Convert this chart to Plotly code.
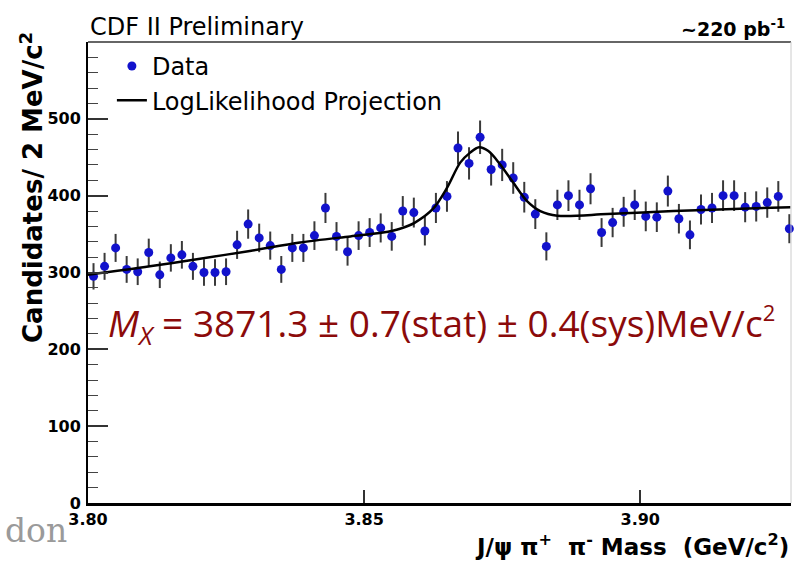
import numpy as np
import plotly.graph_objects as go

# J/psi pi+ pi- candidates in 2 MeV/c^2 bins, bin centres in GeV/c^2
bin_width = 0.002
first_centre = 3.801
counts = [295, 308, 332, 304, 301, 326, 297, 319, 323, 308,
          300, 300, 301, 336, 363, 345, 335, 304, 332, 332,
          348, 384, 347, 327, 348, 352, 358, 347, 380, 378,
          354, 384, 399, 462, 442, 476, 434, 440, 423, 398,
          376, 334, 388, 400, 388, 409, 352, 365, 379, 388,
          373, 372, 406, 370, 349, 382, 384, 400, 400, 385,
          386, 391, 399, 357]
mass = np.round(first_centre + bin_width * np.arange(len(counts)), 4)
stat_err = np.sqrt(counts)

# Unbinned log-likelihood fit projected onto the histogram
fit_mass = [3.8000, 3.8112, 3.8203, 3.8293, 3.8384, 3.8475, 3.8534, 3.8565,
            3.8592, 3.8625, 3.8650, 3.8674, 3.8692, 3.8708, 3.8725, 3.8746,
            3.8770, 3.8795, 3.8819, 3.8850, 3.8940, 3.9060, 3.9181, 3.9272]
fit_value = [297, 308, 318, 328, 339, 347, 352, 357,
             365, 383, 410, 443, 456, 463, 458, 441,
             417, 393, 380, 374, 376, 380, 383, 385]

x_ticks = [3.80, 3.85, 3.90]
y_ticks = [0, 100, 200, 300, 400, 500]

fig = go.Figure()

fig.add_trace(go.Scatter(
    x=mass, y=counts, mode="markers", name="Data",
    marker=dict(color="#1212cc", size=9),
    error_y=dict(type="data", array=stat_err, visible=True,
                 color="#3a3a3a", thickness=2, width=0),
    cliponaxis=False,
))

fig.add_trace(go.Scatter(
    x=fit_mass, y=fit_value, mode="lines", name="LogLikelihood Projection",
    line=dict(color="black", width=2.5, shape="spline", smoothing=0.9),
))

bold = "DejaVu Sans"
fig.update_layout(
    width=794, height=562,
    margin=dict(l=88, r=3, t=42, b=59),
    paper_bgcolor="white", plot_bgcolor="white",
    showlegend=True,
    legend=dict(x=0.034, y=0.996, xanchor="left", yanchor="top",
                bgcolor="rgba(0,0,0,0)",
                font=dict(family="DejaVu Sans", size=24, color="black"),
                itemwidth=30, tracegroupgap=0),
    xaxis=dict(range=[3.80, 3.9273], showgrid=False, zeroline=False,
               showline=True, linecolor="black", linewidth=2.5,
               tickmode="array", tickvals=x_ticks, tickformat=".2f",
               ticks="inside", ticklen=13, tickwidth=1.5, tickcolor="#333",
               ticklabelstandoff=0,
               tickfont=dict(family=bold, size=16, color="black", weight="bold")),
    yaxis=dict(range=[0, 600], showgrid=False, zeroline=False,
               showline=True, linecolor="black", linewidth=2,
               tickmode="array", tickvals=y_ticks,
               ticks="inside", ticklen=20, tickwidth=1.5, tickcolor="#333",
               minor=dict(ticks="inside", ticklen=10, dtick=20, tickwidth=1.2,
                          tickcolor="#444", showgrid=False),
               ticklabelstandoff=2,
               tickfont=dict(family=bold, size=16, color="black", weight="bold")),
    shapes=[
        dict(type="line", xref="paper", yref="paper", x0=0, x1=1, y0=1, y1=1,
             line=dict(color="#333", width=1.5)),
        dict(type="line", xref="paper", yref="paper", x0=1, x1=1, y0=0, y1=1,
             line=dict(color="#cccccc", width=1)),
    ],
    annotations=[
        dict(text="CDF II Preliminary", xref="paper", yref="paper",
             x=0.0, y=1.0325, xanchor="left", yanchor="middle", showarrow=False,
             font=dict(family="DejaVu Sans", size=24, color="black")),
        dict(text="~220 pb<sup>-1</sup>", xref="paper", yref="paper",
             x=0.995, y=1.03, xanchor="right", yanchor="middle", showarrow=False,
             font=dict(family=bold, size=19, color="black", weight="bold")),
        dict(text="Candidates/ 2 MeV/c<sup>2</sup>", xref="paper", yref="paper",
             x=-0.08, y=0.685, xanchor="center", yanchor="middle", showarrow=False,
             textangle=-90,
             font=dict(family=bold, size=26, color="black", weight="bold")),
        dict(text="J/\u03c8 \u03c0<sup>+</sup>  \u03c0<sup>-</sup> Mass  (GeV/c<sup>2</sup>)",
             xref="paper", yref="paper", x=1.0, y=-0.091, xanchor="right",
             yanchor="middle", showarrow=False,
             font=dict(family=bold, size=23, color="black", weight="bold")),
        dict(text="<i>M</i><sub><i>X</i></sub> = 3871.3 \u00b1 0.7(stat) \u00b1 0.4(sys)MeV/c"
                  "<sup><span style='font-size:22px'>2</span></sup>",
             xref="paper", yref="paper", x=(106 - 88) / 703, y=(503 - 325) / 461,
             xanchor="left", yanchor="middle", showarrow=False,
             font=dict(family="Open Sans", size=37, color="#8b0a0a")),
        dict(text="don", xref="paper", yref="paper",
             x=(3 - 88) / 703, y=(503 - 530) / 461, xanchor="left", yanchor="middle",
             showarrow=False,
             font=dict(family="DejaVu Serif", size=33, color="#9a9a9a")),
    ],
)

fig.write_html("out.html")
